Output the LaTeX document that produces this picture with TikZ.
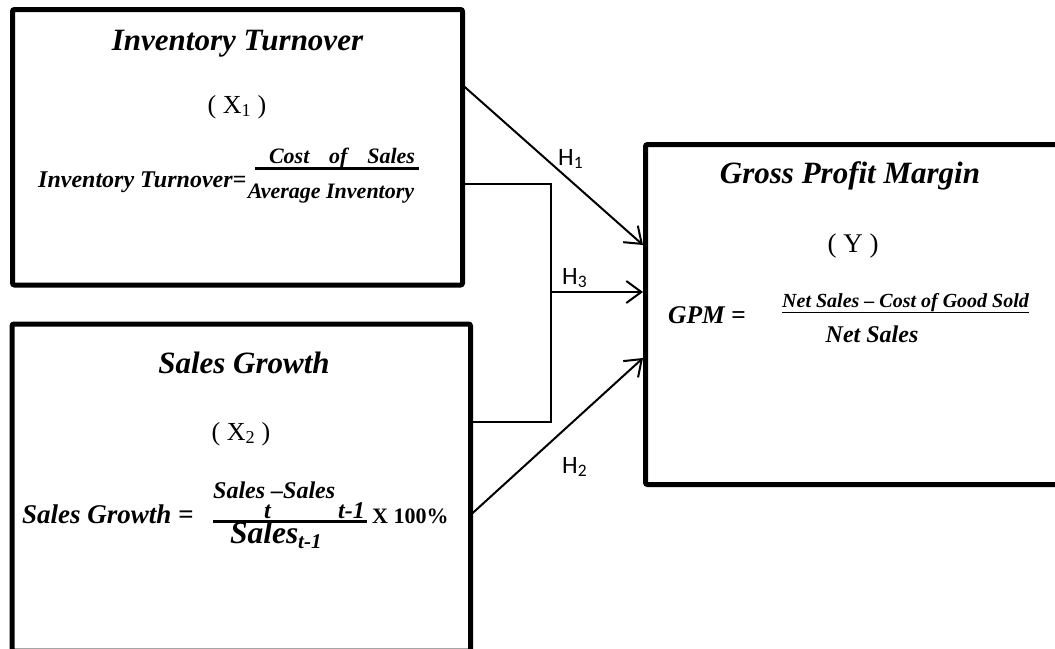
\documentclass[tikz,border=0pt]{standalone}
\usepackage{fontspec}
\setmainfont{Liberation Serif}
\newfontfamily\hfont{Carlito}
\usetikzlibrary{arrows.meta}

\begin{document}
\begin{tikzpicture}[x=1pt,y=-1pt,
  frame/.style={draw, line width=5pt, rounded corners=2pt, inner sep=0pt},
  link/.style={line width=2pt},
  arr/.style={link, -{Straight Barb[length=15pt,width=22pt,line width=2pt]}},
  bar/.style={line width=3pt},
  txt/.style={inner sep=0pt, anchor=base},
  txtw/.style={inner sep=0pt, anchor=base west},
  bi/.style={font=\bfseries\itshape\fontsize{#1}{#1}\selectfont},
  rm/.style={font=\fontsize{#1}{#1}\selectfont},
  hlbl/.style={inner sep=0pt, anchor=base west, font=\hfont\fontsize{25}{25}\selectfont}
]
\useasboundingbox (0,0) rectangle (1055,648);
\clip (0,0) rectangle (1055,648);

% the three variable boxes
\node[frame, minimum width=450pt, minimum height=275.5pt] (inv) at (237.5,147.25) {};
\node[frame, minimum width=458.5pt, minimum height=327pt] (sg) at (241.25,487.5) {};
\node[frame, minimum width=416.5pt, minimum height=340pt] (gpm) at (853.75,314.5) {};

% Inventory Turnover
\node[txt, bi=31] (invT) at (237.5,50) {Inventory Turnover};
\node[txt, rm=26] (invX) at (237,113) {( X\textsubscript{1} )};
\node[txtw, bi=24] (invL) at (38,187) {Inventory Turnover=};
\node[txt, bi=22] (invN) at (342,163) {Cost\hspace{0.9em}of\hspace{0.9em}Sales};
\draw[bar] (255,168.5) -- (419,168.5);
\node[txt, bi=22] (invD) at (331,198) {Average Inventory};

% Sales Growth
\node[txt, bi=31] (sgT) at (244,373) {Sales Growth};
\node[txt, rm=26] (sgX) at (241,440) {( X\textsubscript{2} )};
\node[txtw, bi=27] (sgL) at (22,523) {Sales Growth =};
\node[txtw, bi=24] (sgN) at (213,498) {Sales –Sales};
\node[txtw, bi=24] (sgNa) at (264,518) {t};
\node[txtw, bi=24] (sgNb) at (338,518) {t-1};
\draw[bar] (213,521.5) -- (367,521.5);
\node[txtw, font=\bfseries\fontsize{22}{22}\selectfont, inner sep=0pt] (sgP) at (372,523) {X 100\%};
\node[txtw, bi=31.5] (sgD) at (230,543) {Sales};
\node[txtw, bi=21] (sgDs) at (298,548) {t-1};

% Gross Profit Margin
\node[txt, bi=31] (gpT) at (850,183) {Gross Profit Margin};
\node[txt, rm=27] (gpY) at (853,252) {( Y )};
\node[txtw, bi=25.5] (gpL) at (668,323) {GPM =};
\node[txtw, bi=20] (gpN) at (782,307) {\underline{Net Sales – Cost of Good Sold}};
\node[txt, bi=24] (gpD) at (872,342) {Net Sales};

% hypothesis links
\coordinate (h1s) at (462.5,85);
\coordinate (h1e) at (643,245);
\coordinate (h2s) at (470.5,515);
\coordinate (h2e) at (643,358);
\coordinate (b1) at (462.5,184);
\coordinate (b2) at (470.5,422);
\coordinate (bj) at (551,292);
\coordinate (h3e) at (643,292);

\draw[arr] (h1s) -- (h1e);
\draw[arr] (h2s) -- (h2e);
\draw[link] (b1) -- (b1 -| bj) -- (b2 -| bj) -- (b2);
\draw[arr] (bj) -- (h3e);

\node[hlbl] (h1) at (558,165) {H\textsubscript{1}};
\node[hlbl] (h3) at (562,284) {H\textsubscript{3}};
\node[hlbl] (h2) at (562,473) {H\textsubscript{2}};
\end{tikzpicture}
\end{document}
